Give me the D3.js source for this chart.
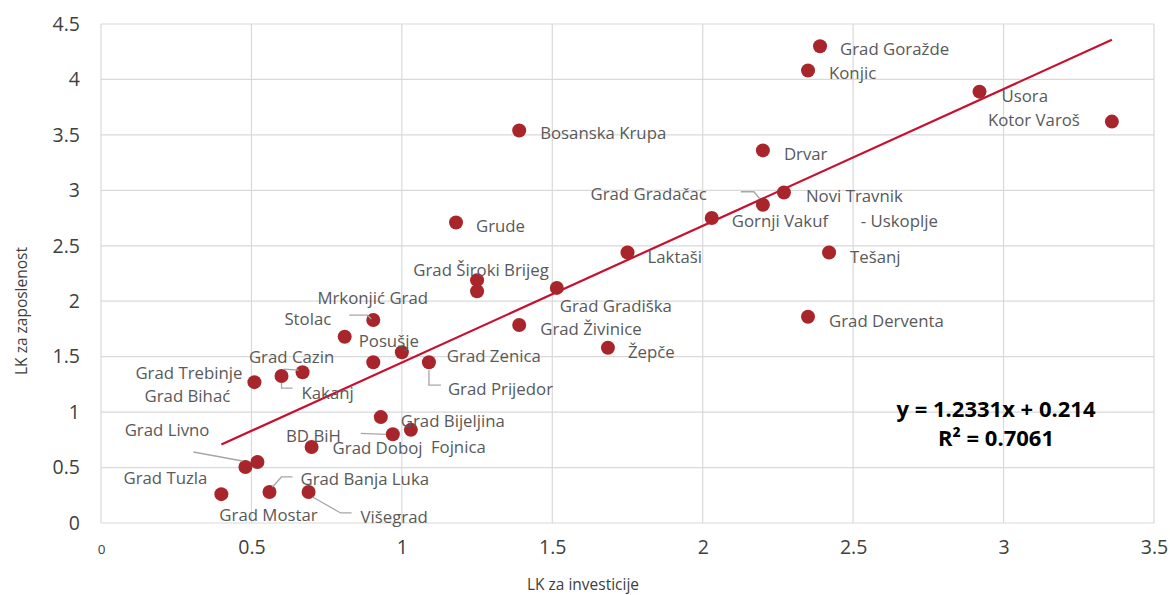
<!DOCTYPE html>
<html>
<head>
<meta charset="utf-8">
<script src="https://cdn.jsdelivr.net/npm/d3@7"></script>
<style>
  html, body { margin: 0; padding: 0; background: #fff; }
  svg { display: block; }
</style>
</head>
<body>
<svg id="chart" width="1170" height="595"></svg>
<script>
// ---------- DATA ----------
const names = [
  "Grad Goražde", "Konjic", "Usora", "Kotor Varoš", "Bosanska Krupa", "Drvar",
  "Novi Travnik", "Grad Gradačac", "Gornji Vakuf - Uskoplje", "Grude", "Laktaši", "Tešanj",
  "Grad Široki Brijeg", "Mrkonjić Grad", "Grad Gradiška", "Grad Derventa", "Stolac", "Grad Živinice",
  "Posušje", "Žepče", "Grad Zenica", "Grad Bihać", "Grad Prijedor", "Grad Cazin",
  "Kakanj", "Grad Trebinje", "Grad Bijeljina", "Fojnica", "BD BiH", "Grad Doboj",
  "Grad Tuzla", "Grad Livno", "Grad Mostar", "Grad Banja Luka", "Višegrad"
];
const lkInvesticije = [
  2.39, 2.35, 2.92, 3.36, 1.39, 2.20,
  2.27, 2.20, 2.03, 1.18, 1.75, 2.42,
  1.25, 1.25, 1.515, 2.35, 0.905, 1.39,
  0.81, 1.685, 1.00, 0.905, 1.09, 0.67,
  0.60, 0.51, 0.93, 1.03, 0.97, 0.70,
  0.52, 0.48, 0.40, 0.56, 0.69
];
const lkZaposlenost = [
  4.30, 4.08, 3.89, 3.62, 3.54, 3.36,
  2.98, 2.87, 2.75, 2.71, 2.44, 2.44,
  2.19, 2.09, 2.12, 1.86, 1.83, 1.785,
  1.68, 1.58, 1.54, 1.45, 1.45, 1.36,
  1.325, 1.27, 0.955, 0.84, 0.80, 0.685,
  0.55, 0.505, 0.26, 0.28, 0.28
];
const trendSlope = 1.2331;
const trendIntercept = 0.214;
const rSquared = 0.7061;
const xTicks = [0, 0.5, 1, 1.5, 2, 2.5, 3, 3.5];
const yTicks = [0, 0.5, 1, 1.5, 2, 2.5, 3, 3.5, 4, 4.5];
const xTitle = "LK za investicije";
const yTitle = "LK za zaposlenost";

// ---------- LABEL LAYOUT (pixel offsets from each point) ----------
// [dx, dy, anchor, leader points]
const labelLayout = [
  [20, 2, "start", null], [21, 2, "start", null], [22, 4, "start", null], [-32, -2, "end", null],
  [21, 2, "start", null], [21, 3, "start", null], [22, 3, "start", null],
  [-56, -11, "end", [[-22,-13],[-9,-13],[-3,-6]]],
  [20, 2, "start", null], [20, 3, "start", null], [20, 4, "start", null], [21, 4, "start", null],
  [4, -11, "middle", null], [-49, 6, "end", null], [3, 18, "start", null], [21, 4, "start", null],
  [-42, -2, "end", [[-24,-5],[-6,-5],[-2,-1]]], [21, 3, "start", null],
  [14, 4, "start", null], [20, 4, "start", null], [45, 3, "start", null], [-143, 33, "end", null],
  [19, 26, "start", [[0,8],[0,23],[12,23]]],
  [-11, -16, "middle", [[-19,-3],[-4,-2]]],
  [20, 16, "start", [[0,7],[0,12],[11,12]]],
  [-12, -10, "end", null], [20, 3, "start", null], [20, 17, "start", null],
  [-52, 1, "end", [[-32,-1],[-7,0]]], [21, 0, "start", null],
  [-50, 15, "end", null],
  [-36, -38, "end", [[-52,-15],[-3,-6]]],
  [-2, 20, "start", null],
  [31, -13, "start", [[3,-5],[12,-15],[23,-15]]],
  [52, 25, "start", [[4,5],[32,21],[43,21]]]
];

// ---------- CHART ----------
const svg = d3.select("#chart");
const x = d3.scaleLinear().domain([0, 3.5]).range([101, 1154]);
const y = d3.scaleLinear().domain([0, 4.5]).range([523, 24]);
const gridColor = "#d9d9d9";
const textFont = "'Open Sans', 'Noto Sans', sans-serif";

// gridlines
svg.append("g").selectAll("line.h").data(yTicks).join("line")
  .attr("x1", x(0)).attr("x2", x(3.5))
  .attr("y1", d => y(d)).attr("y2", d => y(d))
  .attr("stroke", gridColor).attr("stroke-width", 1.2);
svg.append("g").selectAll("line.v").data(xTicks).join("line")
  .attr("y1", y(0)).attr("y2", y(4.5))
  .attr("x1", d => x(d)).attr("x2", d => x(d))
  .attr("stroke", gridColor).attr("stroke-width", 1.2);

// axes (labels only)
const yAxis = d3.axisLeft(y).tickValues(yTicks).tickSize(0).tickPadding(21).tickFormat(d => String(d));
const gy = svg.append("g").attr("transform", `translate(${x(0)},0)`).call(yAxis);
gy.select(".domain").remove();
gy.selectAll("text").attr("font-family", textFont).attr("font-size", 19.5).attr("fill", "#404040");

const xAxis = d3.axisBottom(x).tickValues(xTicks).tickSize(0).tickPadding(17).tickFormat(d => String(d));
const gx = svg.append("g").attr("transform", `translate(0,${y(0)})`).call(xAxis);
gx.select(".domain").remove();
gx.selectAll("text").attr("font-family", textFont).attr("font-size", 19.5).attr("fill", "#404040");
gx.selectAll(".tick").filter(d => d === 0).select("text").attr("font-size", 13.5).attr("dy", "1.05em");

// axis titles
svg.append("text").attr("x", 583).attr("y", 584).attr("text-anchor", "middle")
  .attr("dominant-baseline", "central")
  .attr("font-family", textFont).attr("font-size", 15.5).attr("fill", "#404040").text(xTitle);
svg.append("text").attr("transform", "translate(21,311) rotate(-90)").attr("text-anchor", "middle")
  .attr("dominant-baseline", "central")
  .attr("font-family", textFont).attr("font-size", 15.5).attr("fill", "#404040").text(yTitle);

// trendline across data range
const xMin = d3.min(lkInvesticije), xMax = d3.max(lkInvesticije);
svg.append("line")
  .attr("x1", x(xMin)).attr("y1", y(trendSlope * xMin + trendIntercept))
  .attr("x2", x(xMax)).attr("y2", y(trendSlope * xMax + trendIntercept))
  .attr("stroke", "#c8102e").attr("stroke-width", 2.2);

const points = names.map((n, i) => ({ name: n, x: lkInvesticije[i], y: lkZaposlenost[i], lay: labelLayout[i] }));

// points
svg.append("g").selectAll("circle").data(points).join("circle")
  .attr("cx", d => x(d.x)).attr("cy", d => y(d.y)).attr("r", 7)
  .attr("fill", "#a8262b");

// leader lines
svg.append("g").selectAll("polyline").data(points.filter(d => d.lay[3])).join("polyline")
  .attr("points", d => d.lay[3].map(p => [x(d.x) + p[0], y(d.y) + p[1]].join(",")).join(" "))
  .attr("fill", "none").attr("stroke", "#a6a6a6").attr("stroke-width", 1.3);

// labels
const lbl = svg.append("g").selectAll("text").data(points).join("text")
  .attr("x", d => x(d.x) + d.lay[0]).attr("y", d => y(d.y) + d.lay[1])
  .attr("text-anchor", d => d.lay[2])
  .attr("dominant-baseline", "central")
  .attr("font-family", textFont).attr("font-size", 16.8).attr("fill", "#595959");
lbl.each(function(d) {
  const t = d3.select(this);
  if (d.name === "Gornji Vakuf - Uskoplje") {
    const parts = d.name.split(" - ");
    t.append("tspan").text(parts[0]);
    t.append("tspan").attr("x", x(d.x) + d.lay[0] + 129).text("- " + parts[1]);
  } else {
    t.text(d.name);
  }
});

// equation
const eq = svg.append("g").attr("font-family", textFont).attr("font-weight", 700)
  .attr("font-size", 22).attr("fill", "#000").attr("text-anchor", "middle");
eq.append("text").attr("x", 996).attr("y", 408).attr("dominant-baseline", "central")
  .text(`y = ${trendSlope}x + ${trendIntercept}`);
eq.append("text").attr("x", 996).attr("y", 437).attr("dominant-baseline", "central")
  .text(`R² = ${rSquared}`);
</script>
</body>
</html>
